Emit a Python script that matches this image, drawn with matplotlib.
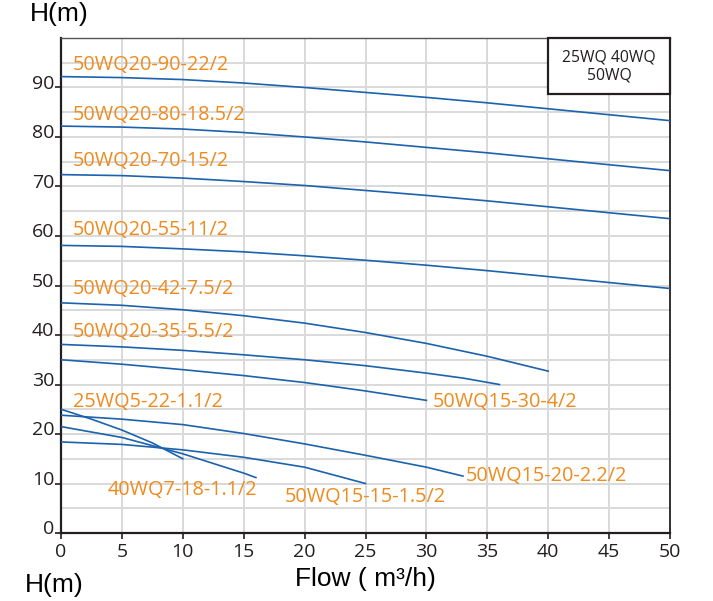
import matplotlib.pyplot as plt
import matplotlib.transforms as mtransforms
import numpy as np

# ── Pump curves (flow m³/h, head m) ─────────────────────────────────────────
names = [
    "50WQ20-90-22/2", "50WQ20-80-18.5/2", "50WQ20-70-15/2", "50WQ20-55-11/2",
    "50WQ20-42-7.5/2", "50WQ20-35-5.5/2", "50WQ15-30-4/2", "25WQ5-22-1.1/2",
    "40WQ7-18-1.1/2", "50WQ15-15-1.5/2", "50WQ15-20-2.2/2",
]

q_90 = [0, 5, 10, 15, 20, 25, 30, 35, 40, 45, 50]
h_90 = [92.2, 92.0, 91.6, 90.9, 90.0, 89.0, 88.0, 86.9, 85.7, 84.5, 83.3]
q_80 = [0, 5, 10, 15, 20, 25, 30, 35, 40, 45, 50]
h_80 = [82.2, 82.0, 81.6, 80.9, 80.0, 79.0, 77.9, 76.8, 75.6, 74.4, 73.2]
q_70 = [0, 5, 10, 15, 20, 25, 30, 35, 40, 45, 50]
h_70 = [72.4, 72.2, 71.7, 71.0, 70.2, 69.2, 68.2, 67.1, 65.9, 64.7, 63.5]
q_55 = [0, 5, 10, 15, 20, 25, 30, 35, 40, 45, 50]
h_55 = [58.1, 57.9, 57.4, 56.8, 56.0, 55.1, 54.1, 53.0, 51.8, 50.6, 49.4]
q_42 = [0, 5, 10, 15, 20, 25, 30, 35, 40]
h_42 = [46.5, 46.0, 45.1, 43.9, 42.4, 40.5, 38.3, 35.7, 32.7]
q_35 = [0, 5, 10, 15, 20, 25, 30, 33, 36]
h_35 = [38.1, 37.6, 36.9, 36.0, 35.0, 33.8, 32.3, 31.3, 30.0]
q_30 = [0, 5, 10, 15, 20, 25, 30]
h_30 = [35.0, 34.1, 33.0, 31.8, 30.4, 28.7, 26.8]
q_22 = [0, 2.5, 5, 7.5, 10]
h_22 = [25.0, 23.0, 20.8, 18.2, 15.0]
q_18 = [0, 5, 10, 15, 16]
h_18 = [21.5, 19.3, 16.0, 12.1, 11.2]
q_15 = [0, 5, 10, 15, 20, 25]
h_15 = [18.4, 17.9, 16.8, 15.3, 13.3, 10.0]
q_20 = [0, 5, 10, 15, 20, 25, 30, 33]
h_20 = [23.8, 23.0, 21.9, 20.1, 18.0, 15.7, 13.3, 11.5]

curves = [(q_90, h_90), (q_80, h_80), (q_70, h_70), (q_55, h_55),
          (q_42, h_42), (q_35, h_35), (q_30, h_30), (q_22, h_22),
          (q_18, h_18), (q_15, h_15), (q_20, h_20)]

# label anchor (left edge, vertical centre) in data units
label_x = [1.0, 1.0, 1.0, 1.0, 1.0, 1.0, 30.5, 1.0, 3.8, 18.4, 33.2]
label_y = [94.6, 84.5, 75.1, 61.3, 49.2, 40.6, 26.5, 26.5, 8.7, 7.2, 11.6]

x_ticks = list(range(0, 51, 5))
y_ticks = list(range(0, 91, 10))

BLUE = "#1c62ad"
ORANGE = "#f08a1d"
DARK = "#231f20"

plt.rcParams["font.family"] = ["Open Sans", "DejaVu Sans"]

fig = plt.figure(figsize=(7.13, 6.01), dpi=100)
ax = fig.add_axes([0.0856, 0.1131, 0.8541, 0.8237])
ax.set_xlim(0, 50)
ax.set_ylim(0, 100)

# light grid every 5 units in both directions
for gx in np.arange(5, 50, 5):
    ax.axvline(gx, color="#d9d9d9", lw=1.4, zorder=0)
for gy in np.arange(5, 100, 5):
    ax.axhline(gy, color="#d9d9d9", lw=1.4, zorder=0)

ax.set_xticks(x_ticks)
ax.set_xticklabels([str(v) for v in x_ticks])
ax.set_yticks(y_ticks)
ax.set_yticklabels([str(v) for v in y_ticks])
ax.tick_params(axis="both", labelsize=14, colors=DARK, length=4, width=1.2, pad=3)
ax.tick_params(axis="y", pad=1)
for lbl in ax.get_yticklabels():
    lbl.set_transform(lbl.get_transform() + mtransforms.ScaledTranslation(0, 4 / 72, fig.dpi_scale_trans))

ax.spines["left"].set_linewidth(1.6)
ax.spines["bottom"].set_linewidth(1.6)
ax.spines["right"].set_linewidth(1.3)
ax.spines["top"].set_linewidth(1.0)
for s in ["left", "bottom", "right"]:
    ax.spines[s].set_color(DARK)
ax.spines["top"].set_color("#555555")

for (q, h) in curves:
    ax.plot(q, h, color=BLUE, lw=1.2, zorder=3)

for name, lx, ly in zip(names, label_x, label_y):
    ax.text(lx, ly, name, color=ORANGE, fontsize=14.3, ha="left", va="center", zorder=4)

# series box in the top-right corner
ax.text(45, 94.3, "25WQ 40WQ\n50WQ", ha="center", va="center", fontsize=11.3,
        color=DARK, linespacing=1.15, zorder=5)
box = plt.Rectangle((40, 88.6), 10, 11.4, fill=True, facecolor="white",
                    edgecolor=DARK, lw=1.6, zorder=4, clip_on=False)
ax.add_patch(box)

fig.text(0.042, 0.976, "H(m)", fontsize=19, color="black", ha="left", va="center",
         family=["Liberation Sans", "DejaVu Sans"])
fig.text(0.035, 0.026, "H(m)", fontsize=19, color="black", ha="left", va="center",
         family=["Liberation Sans", "DejaVu Sans"])
fig.text(0.513, 0.037, "Flow ( m³/h)", fontsize=19, color="black", ha="center", va="center",
         family=["Liberation Sans", "DejaVu Sans"])

fig.savefig("out.png", dpi=100)
